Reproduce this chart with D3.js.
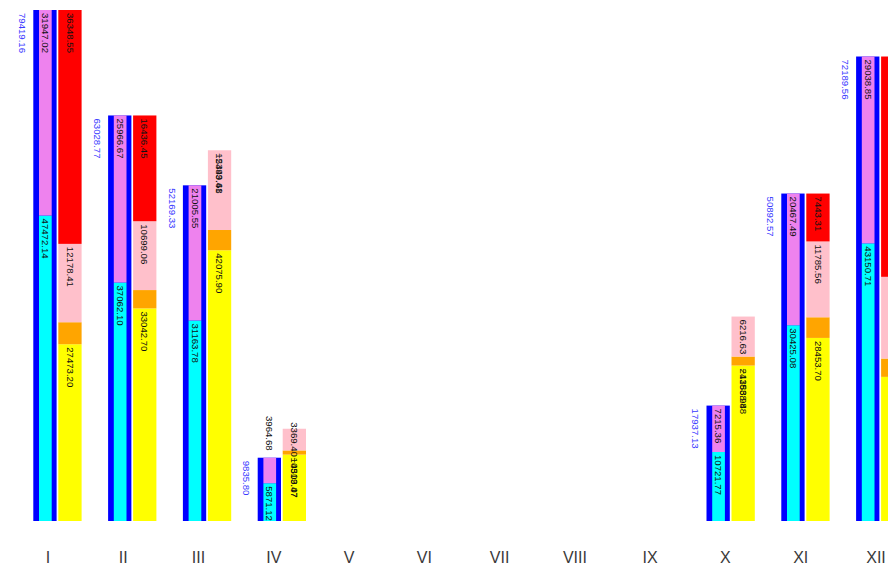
<!DOCTYPE html>
<html><head><meta charset="utf-8">
<script src="https://cdn.jsdelivr.net/npm/d3@7"></script>
<style>body{margin:0;background:#fff}svg{display:block}</style>
</head><body>
<svg id="chart" width="888" height="566"></svg>
<script>
const months = ["I","II","III","IV","V","VI","VII","VIII","IX","X","XI","XII"];
const totals = [79419.16, 63028.77, 52169.33, 9835.80, 0, 0, 0, 0, 0, 17937.13, 50892.57, 72189.56];
const cyanVals = [47472.14, 37062.10, 31163.78, 5871.12, 0, 0, 0, 0, 0, 10721.77, 30425.08, 43150.71];
const violetVals = [31947.02, 25966.67, 21005.55, 3964.68, 0, 0, 0, 0, 0, 7215.36, 20467.49, 29038.85];
const yellowVals = [27473.20, 33042.70, 42075.90, 10319.47, 0, 0, 0, 0, 0, 24158.98, 28453.70, 22400.00];
const orangeVals = [3419.00, 2850.00, 3150.00, 650.00, 0, 0, 0, 0, 0, 1400.00, 3210.00, 2850.00];
const pinkVals = [12178.41, 10699.06, 12393.41, 3369.40, 0, 0, 0, 0, 0, 6216.63, 11785.56, 12700.00];
const redVals = [36348.55, 16436.45, -5449.68, -4503.07, 0, 0, 0, 0, 0, -13838.48, 7443.31, 34239.56];

const svg = d3.select("#chart");
const plotTop = 10, plotBase = 521;
const y = d3.scaleLinear().domain([0, d3.max(totals)]).range([plotBase, plotTop]);
const x = d3.scaleBand().domain(months).range([33.3, 33.3 + 74.8 * 12]).padding(0);
const xt = d3.scalePoint().domain(months).range([48, 876]);
const fmt = d3.format(".2f");

svg.append("defs").append("clipPath").attr("id", "clip")
  .append("rect").attr("x", 0).attr("y", plotTop).attr("width", 888).attr("height", plotBase - plotTop);
const plot = svg.append("g").attr("clip-path", "url(#clip)");
const labels = svg.append("g").style("font-family", "Arial, 'Liberation Sans', sans-serif").style("font-size", "9.6px");

const BW = 23.3, IN_L = 5.7, IN_W = 12.7, GAP = 25;

function vlabel(cx, yStart, txt, color, anchor) {
  labels.append("text")
    .attr("transform", `translate(${cx},${yStart}) rotate(90)`)
    .attr("text-anchor", anchor || "start")
    .attr("dy", "0.35em")
    .attr("fill", color)
    .text(txt);
}
const approxLen = s => s.length * 4.8;

months.forEach((m, i) => {
  if (!totals[i]) return;
  const x0 = x(m);
  plot.append("rect").attr("x", x0).attr("y", y(totals[i]))
    .attr("width", BW).attr("height", y(0) - y(totals[i])).attr("fill", "#0000ff");
  vlabel(x0 - 11, y(totals[i]) + 3, fmt(totals[i]), "#3a3aff");
  const inner = [["cyan", cyanVals[i], "#00ffff"], ["violet", violetVals[i], "#ee82ee"]];
  let cum = 0;
  inner.forEach(([k, v, c]) => {
    const y1 = y(cum + v), y0 = y(cum);
    plot.append("rect").attr("x", x0 + IN_L).attr("y", y1).attr("width", IN_W).attr("height", y0 - y1).attr("fill", c);
    const s = fmt(v), cx = x0 + IN_L + IN_W / 2;
    if (y0 - y1 >= approxLen(s)) vlabel(cx, Math.max(y1, plotTop) + 3, s, "#111");
    else vlabel(cx, y1 - 7, s, "#111", "end");
    cum += v;
  });
  const x1 = x0 + GAP;
  const segs = [["yellow", yellowVals[i], "#ffff00"], ["orange", orangeVals[i], "#ffa500"], ["pink", pinkVals[i], "#ffc0cb"]];
  cum = 0;
  const spans = [];
  segs.forEach(([k, v, c]) => {
    const y1 = y(cum + v), y0 = y(cum);
    plot.append("rect").attr("x", x1).attr("y", y1).attr("width", BW).attr("height", y0 - y1).attr("fill", c);
    spans.push([y1, y0]);
    if (k !== "orange") {
      const s = fmt(v);
      if (y0 - y1 >= approxLen(s) || k === "yellow") vlabel(x1 + BW / 2, y1 + 3, s, "#111");
      else vlabel(x1 + BW / 2, (y0 + y1) / 2, s, "#111", "middle");
    }
    cum += v;
  });
  const r = redVals[i];
  if (r > 0) {
    const y1 = y(cum + r), y0 = y(cum);
    plot.append("rect").attr("x", x1).attr("y", y1).attr("width", BW).attr("height", y0 - y1).attr("fill", "#ff0000");
    vlabel(x1 + BW / 2, Math.max(y1, plotTop) + 3, fmt(r), "#111");
  } else {
    const yt = y(cum + r);
    const sp = spans.find(s => yt >= s[0] && yt <= s[1]) || spans[spans.length - 1];
    vlabel(x1 + BW / 2, sp[0] + 3, fmt(r), "#111");
  }
});

svg.append("g").selectAll("text").data(months).join("text")
  .attr("x", d => xt(d)).attr("y", 557).attr("dy", "0.35em")
  .attr("text-anchor", "middle")
  .style("font-family", "Arial, 'Liberation Sans', sans-serif").style("font-size", "16px")
  .attr("fill", "#3a3a3a").text(d => d);
</script>
</body></html>
